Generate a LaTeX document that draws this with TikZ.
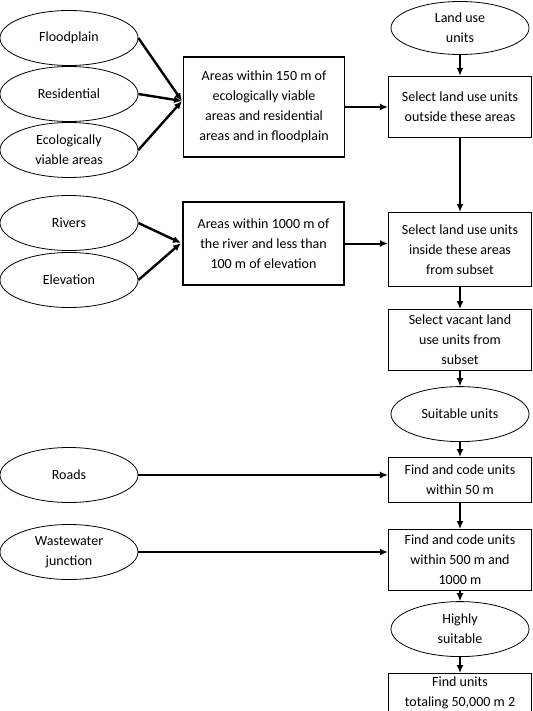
\documentclass[tikz,border=0pt]{standalone}
\usepackage{fontspec}
\setmainfont{Carlito}
\usetikzlibrary{arrows.meta,positioning,shapes.geometric}
\tikzset{
  source/.style={
    ellipse, draw, line width=0.8pt, fill=white,
    minimum width=138pt, minimum height=55pt, inner sep=0pt, align=center
  },
  stage/.style={
    draw, line width=1.1pt, fill=white,
    minimum width=143pt, minimum height=61pt, inner sep=2pt, align=center
  },
  area/.style={stage, minimum width=161pt},
  link/.style={-{Latex[length=8pt,width=7pt]}, line width=2pt},
  feed/.style={-{Latex[length=8pt,width=7pt]}, line width=2.4pt}
}

\begin{document}
\begin{tikzpicture}[x=1pt,y=-1pt,node distance=20pt,font=\fontsize{14}{20}\selectfont]
    \fill[white] (0,0) rectangle (532,711);
    \useasboundingbox (0,0) rectangle (532,711);
    \clip (0,0) rectangle (532,711);
    \node[source] (flood) at (69,38) {Floodplain};
    \node[source] (resid) at (69,94) {Residential};
    \node[source] (eco) at (69,150) {Ecologically\\viable areas};
    \node[source] (rivers) at (69,223) {Rivers};
    \node[source] (elev) at (69,280) {Elevation};
    \node[source] (roads) at (69,475) {Roads};
    \node[source] (waste) at (69,552) {Wastewater\\junction};
    \node[area,minimum height=100pt] (areasA) at (264,107) {Areas within 150 m of\\ecologically viable\\areas and residential\\areas and in floodplain};
    \node[area,minimum height=83pt] (areasB) at (263.5,243.5) {Areas within 1000 m of\\the river and less than\\100 m of elevation};
    \node[source,minimum height=53pt] (landuse) at (460,28) {Land use\\units};
    \node[stage,below=21pt of landuse] (selA) {Select land use units\\outside these areas};
    \node[stage,below=74pt of selA,minimum height=74pt] (selB) {Select land use units\\inside these areas\\from subset};
    \node[stage,below=22pt of selB] (vacant) {Select vacant land\\use units from\\subset};
    \node[source,below=15pt of vacant] (suitable) {Suitable units};
    \node[stage,below=15pt of suitable,minimum height=45pt] (findA) {Find and code units\\within 50 m};
    \node[stage,below=26pt of findA] (findB) {Find and code units\\within 500 m and\\1000 m};
    \node[source,below=10pt of findB] (highly) {Highly\\suitable};
    \node[stage,below=16pt of highly,minimum height=47pt,text depth=11pt] (findC) {Find units\\totaling 50,000 m 2};
    \coordinate (j1) at (182,101);
    \coordinate (j2) at (181,243);
    \draw[feed] (flood.east) -- (j1);
    \draw[feed] (resid.east) -- (j1);
    \draw[feed] (eco.east) -- (j1);
    \draw[feed] (rivers.east) -- (j2);
    \draw[feed] (elev.east) -- (j2);
    \draw[link] (areasA.east) -- (areasA.east -| selA.west);
    \draw[link] (areasB.east) -- (areasB.east -| selB.west);
    \draw[feed] (roads.east) -- (roads.east -| findA.west);
    \draw[link] (waste.east) -- (waste.east -| findB.west);
    \draw[link] (landuse) -- (selA);
    \draw[link] (selA) -- (selB);
    \draw[link] (selB) -- (vacant);
    \draw[link] (vacant) -- (suitable);
    \draw[link] (suitable) -- (findA);
    \draw[link] (findA) -- (findB);
    \draw[link] (findB) -- (highly);
    \draw[link] (highly) -- (findC);
\end{tikzpicture}
\end{document}
